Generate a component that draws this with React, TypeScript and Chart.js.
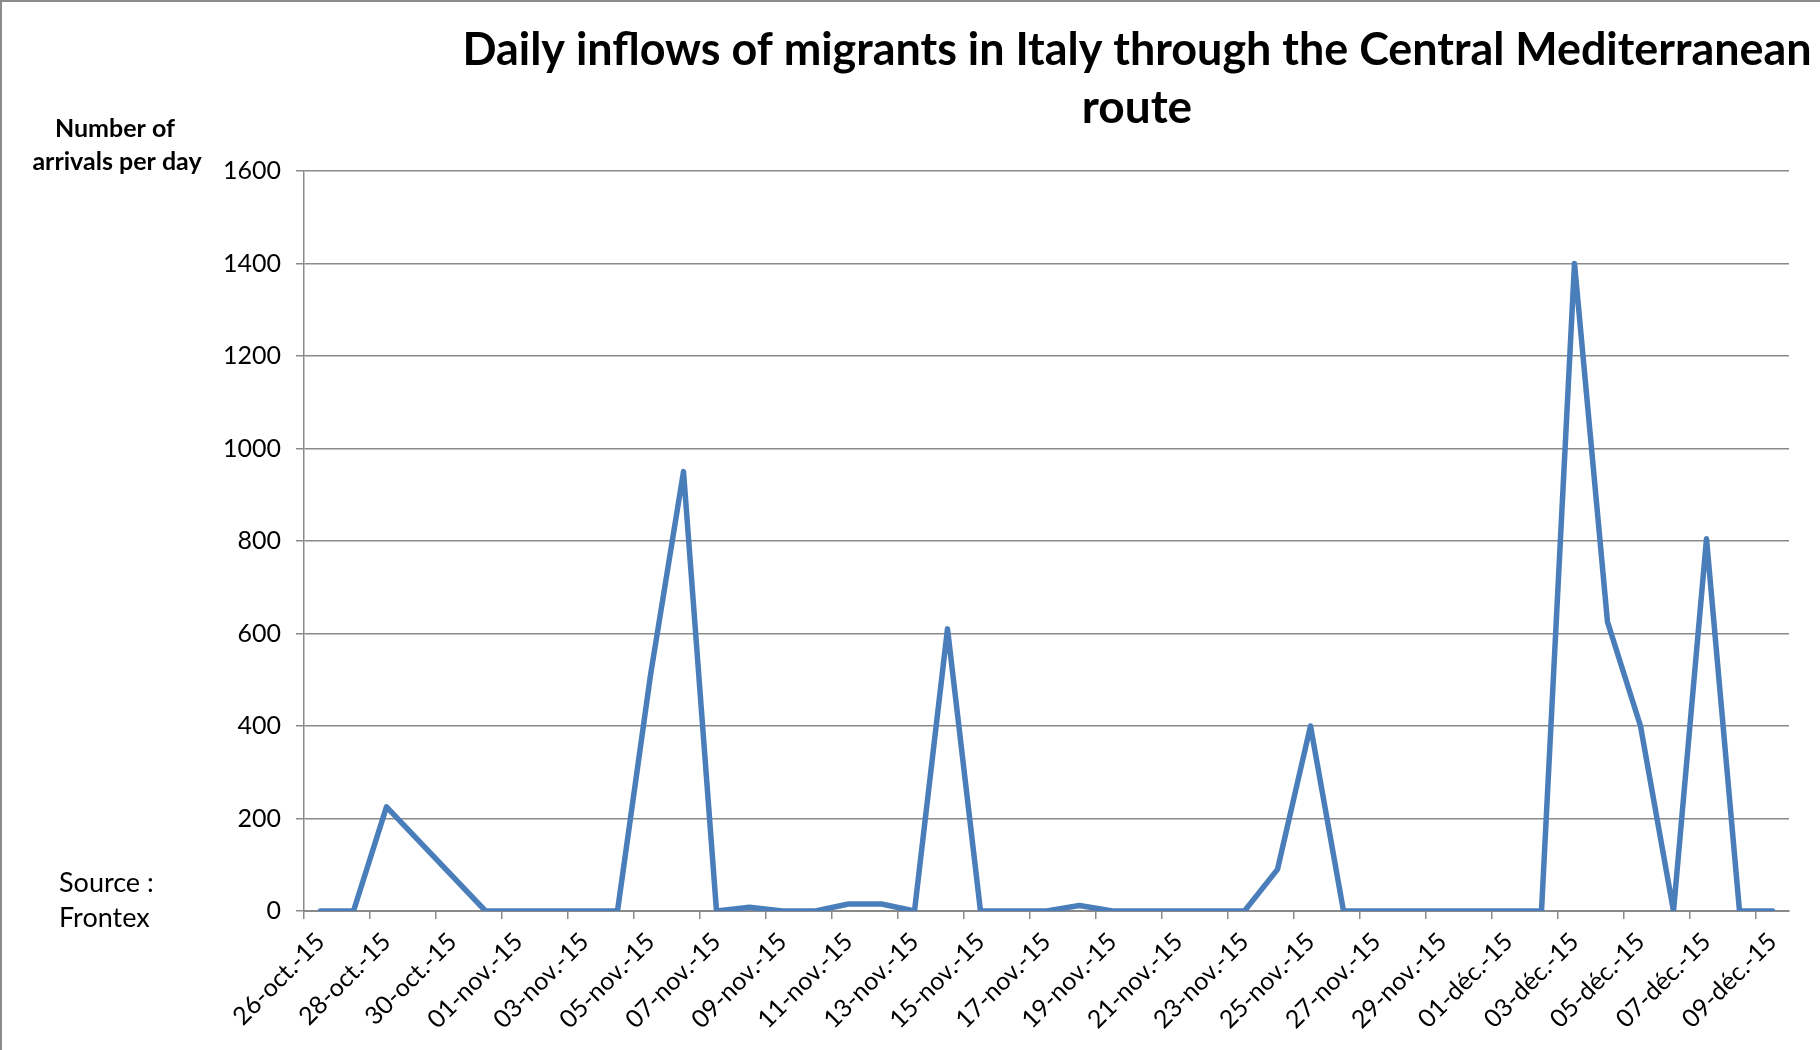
import React, { useEffect, useRef } from 'react';
import { Chart, registerables } from 'chart.js';

Chart.register(...registerables);

// ---- data ----
const dates: string[] = [
  '26-oct.-15', '27-oct.-15', '28-oct.-15', '29-oct.-15', '30-oct.-15', '31-oct.-15',
  '01-nov.-15', '02-nov.-15', '03-nov.-15', '04-nov.-15', '05-nov.-15', '06-nov.-15',
  '07-nov.-15', '08-nov.-15', '09-nov.-15', '10-nov.-15', '11-nov.-15', '12-nov.-15',
  '13-nov.-15', '14-nov.-15', '15-nov.-15', '16-nov.-15', '17-nov.-15', '18-nov.-15',
  '19-nov.-15', '20-nov.-15', '21-nov.-15', '22-nov.-15', '23-nov.-15', '24-nov.-15',
  '25-nov.-15', '26-nov.-15', '27-nov.-15', '28-nov.-15', '29-nov.-15', '30-nov.-15',
  '01-déc.-15', '02-déc.-15', '03-déc.-15', '04-déc.-15', '05-déc.-15', '06-déc.-15',
  '07-déc.-15', '08-déc.-15', '09-déc.-15',
];

const arrivals: (number | null)[] = [
  0, 0, 225, null, null,
  0, 0, 0, 0, 0,
  510, 950, 0, 8, 0,
  0, 15, 15, 0, 610,
  0, 0, 0, 12, 0,
  0, 0, 0, 0, 90,
  400, 0, 0, 0, 0,
  0, 0, 0, 1400, 625,
  400, 0, 805, 0, 0,
];

const yMin = 0;
const yMax = 1600;
const yStep = 200;

const titleLines = ['Daily inflows of migrants in Italy through the Central Mediterranean', 'route'];
const yAxisLabelLines = ['Number of', 'arrivals per day'];
const sourceLines = ['Source :', 'Frontex'];

const FONT = 'Lato, "Open Sans", sans-serif';
const GRID = '#8a8a8a';

const overlayPlugin = {
  id: 'overlayText',
  afterDraw(chart: any) {
    const ctx = chart.ctx as CanvasRenderingContext2D;
    ctx.save();
    // frame (left + top border)
    ctx.strokeStyle = '#8c8c8c';
    ctx.lineWidth = 2;
    ctx.beginPath();
    ctx.moveTo(1, 1050);
    ctx.lineTo(1, 1);
    ctx.lineTo(1820, 1);
    ctx.stroke();

    ctx.fillStyle = '#000';
    ctx.textAlign = 'center';
    ctx.textBaseline = 'middle';
    // title
    ctx.font = `bold 46px ${FONT}`;
    ctx.fillText(titleLines[0], 1137, 50, 1349);
    ctx.fillText(titleLines[1], 1137, 108, 1349);

    // y axis label
    ctx.font = `bold 25px ${FONT}`;
    ctx.fillText(yAxisLabelLines[0], 115, 129, 200);
    ctx.fillText(yAxisLabelLines[1], 117, 162, 172);

    // source
    ctx.textAlign = 'left';
    ctx.font = `27px ${FONT}`;
    ctx.fillText(sourceLines[0], 59, 883);
    ctx.fillText(sourceLines[1], 59, 918);
    ctx.restore();
  },
};

export default function App() {
  const ref = useRef<HTMLCanvasElement | null>(null);

  useEffect(() => {
    document.body.style.margin = '0';
    const canvas = ref.current;
    if (!canvas) return;
    const chart = new Chart(canvas, {
      type: 'line',
      data: {
        labels: dates,
        datasets: [
          {
            label: 'Arrivals',
            data: arrivals,
            borderColor: '#4A7EBB',
            backgroundColor: '#4A7EBB',
            borderWidth: 5.5,
            pointRadius: 0,
            pointHoverRadius: 0,
            tension: 0,
            spanGaps: true,
            borderJoinStyle: 'round',
            borderCapStyle: 'round',
          },
        ],
      },
      options: {
        responsive: false,
        animation: false,
        devicePixelRatio: 1,
        layout: { padding: { left: 0, right: 31, top: 171, bottom: 0 } },
        plugins: {
          legend: { display: false },
          title: { display: false },
          tooltip: { enabled: false },
        },
        scales: {
          x: {
            type: 'category',
            offset: true,
            afterFit: (s: any) => {
              s.height = 139;
            },
            grid: {
              display: true,
              drawOnChartArea: false,
              drawTicks: true,
              tickLength: 8,
              offset: true,
              lineWidth: 1.5,
              color: (c: any) => (typeof c.index === 'number' && c.index % 2 === 0 ? GRID : 'rgba(0,0,0,0)'),
            },
            border: { display: true, color: GRID, width: 2 },
            ticks: {
              autoSkip: false,
              maxRotation: 45,
              minRotation: 45,
              padding: 8,
              color: '#000',
              font: { family: FONT, size: 25 },
              callback: (_v: any, i: number) => (i % 2 === 0 ? dates[i] : ''),
            },
          },
          y: {
            min: yMin,
            max: yMax,
            afterFit: (s: any) => {
              s.width = 304;
            },
            grid: {
              color: GRID,
              lineWidth: 1.5,
              drawTicks: true,
              tickLength: 8,
            },
            border: { display: true, color: GRID, width: 1.5 },
            ticks: {
              stepSize: yStep,
              padding: 15,
              color: '#000',
              font: { family: FONT, size: 25 },
              callback: (v: any) => String(v),
            },
          },
        },
      },
      plugins: [overlayPlugin],
    } as any);
    return () => chart.destroy();
  }, []);

  return (
    <div style={{ width: 1820, height: 1050, background: '#fff' }}>
      <canvas ref={ref} width={1820} height={1050} style={{ display: 'block' }} />
    </div>
  );
}
